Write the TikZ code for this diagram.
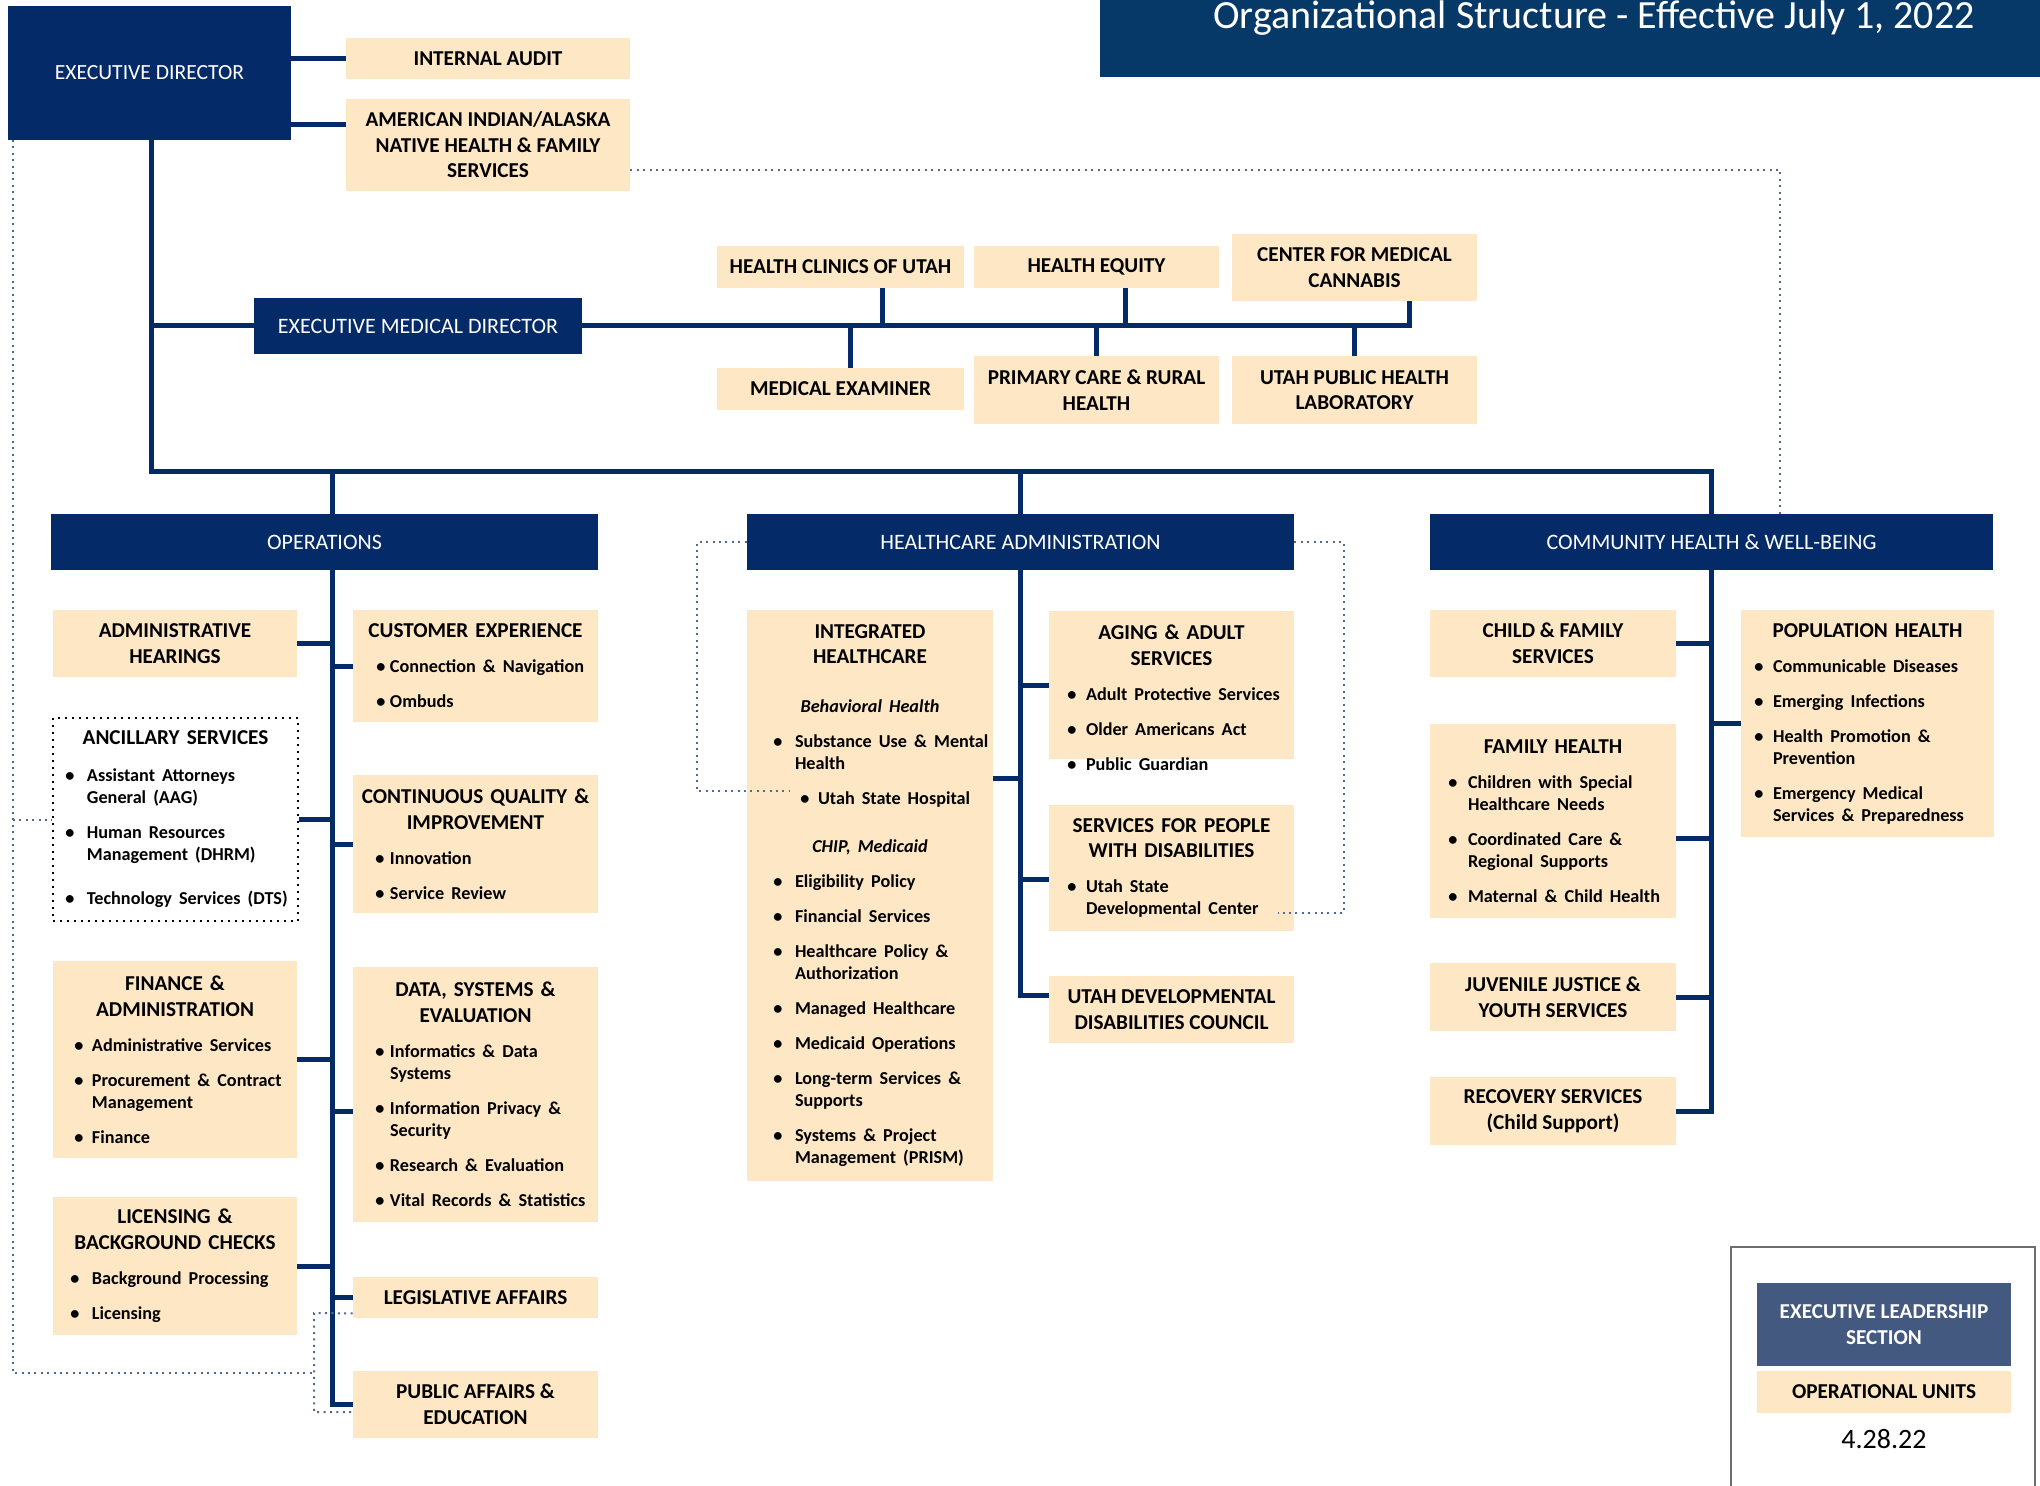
\documentclass[tikz,border=0pt]{standalone}
\usepackage{fontspec}
\setmainfont{Carlito}
\usetikzlibrary{calc}
\definecolor{navy}{RGB}{4,43,104}
\definecolor{banner}{RGB}{6,57,103}
\definecolor{peach}{RGB}{254,231,197}
\definecolor{slate}{RGB}{68,89,128}
\definecolor{dotc}{RGB}{84,104,150}
\definecolor{legc}{RGB}{110,110,110}
\newlength\bx \newlength\tx
\newcommand\ind[2]{\setlength\bx{#1}\setlength\tx{#2}}
\newcommand\bul[2][6.5pt]{\par{\leftskip=0pt\rightskip=-40pt plus 1fil\parfillskip=0pt\fontsize{9.1}{11}\selectfont\vspace{#1}\noindent\hangindent=\tx\hangafter=1\hbox to\tx{\hskip\bx\makebox[0pt]{\textbullet}\hfil}#2\par}}
\newcommand\sub[2][6.5pt]{\par{\centering\fontsize{9.1}{11}\selectfont\itshape\vspace{#1}#2\par}}
\newcommand\wide{\leftskip=-20pt plus 1fil\rightskip=-20pt plus 1fil\parfillskip=0pt\relax}
\newcommand\ubox[7]{\node[#6,minimum width={(#4-#2)*0.5pt},minimum height={(#5-#3)*0.5pt},text width={(#4-#2)*0.5pt}] (#1) at ({(#2+#4)/2},{(#3+#5)/2}) {\wide #7};}
\newcommand\tbox[7]{\node[#6,minimum width={(#4-#2)*0.5pt},minimum height={(#5-#3)*0.5pt}] (#1) at ({(#2+#4)/2},{(#3+#5)/2}) {#7};}
\begin{document}
\begin{tikzpicture}[x=0.5pt,y=-0.5pt,
  unit/.style={fill=peach,inner xsep=0pt,inner ysep=0pt,align=center,text=black,font=\bfseries\fontsize{10.6}{12.8}\selectfont},
  lead/.style={fill=navy,inner xsep=0pt,inner ysep=0pt,align=center,text=white,font=\fontsize{11}{13}\selectfont},
  conn/.style={draw=navy,line width=2.5pt},
  dot/.style={draw=dotc,line width=1pt,dash pattern=on 1pt off 2.2pt}]
\fill[white] (0,0) rectangle (2040,1486);
\useasboundingbox (0,0) rectangle (2040,1486);
% title banner
\node[fill=banner,inner sep=0pt,minimum width=470pt,minimum height=38.5pt,anchor=north west] (banner) at (1100,0) {};
\node[text=white,font=\fontsize{20}{22}\selectfont,anchor=base,inner sep=0pt] (title) at (1594,29) {Organizational Structure - Effective July 1, 2022};
% top
\tbox{ED}{8}{6}{291}{140}{lead,font=\fontsize{10.8}{13}\selectfont}{EXECUTIVE DIRECTOR}
\tbox{IA}{346}{38}{630}{79}{unit}{INTERNAL AUDIT}
\tbox{AIAN}{346}{99}{630}{191}{unit}{AMERICAN INDIAN/ALASKA\\NATIVE HEALTH \& FAMILY\\SERVICES}
\tbox{EMD}{254}{298}{582}{354}{lead}{EXECUTIVE MEDICAL DIRECTOR}
\tbox{HCU}{717}{246}{964}{288}{unit}{HEALTH CLINICS OF UTAH}
\tbox{HE}{974}{246}{1219}{288}{unit}{HEALTH EQUITY}
\tbox{CMC}{1232}{234}{1477}{301}{unit}{CENTER FOR MEDICAL\\CANNABIS}
\tbox{ME}{717}{368}{964}{410}{unit}{MEDICAL EXAMINER}
\tbox{PCRH}{974}{356}{1219}{424}{unit}{PRIMARY CARE \& RURAL\\HEALTH}
\tbox{UPHL}{1232}{356}{1477}{424}{unit}{UTAH PUBLIC HEALTH\\LABORATORY}
% division headers
\tbox{OPS}{51}{514}{598}{570}{lead}{OPERATIONS}
\tbox{HA}{747}{514}{1294}{570}{lead}{HEALTHCARE ADMINISTRATION}
\tbox{CHW}{1430}{514}{1993}{570}{lead}{COMMUNITY HEALTH \& WELL-BEING}
% operations
\tbox{AH}{53}{610}{297}{677}{unit}{ADMINISTRATIVE\\HEARINGS}
\ubox{ANC}{53}{718}{298}{921}{unit,fill=white,draw=black,line width=1pt,dash pattern=on 1pt off 2.5pt}{\ind{8.5pt}{17pt}ANCILLARY SERVICES\bul[7.5pt]{Assistant Attorneys\newline General (AAG)}\bul{Human Resources\newline Management (DHRM)}\bul[11pt]{Technology Services (DTS)}}
\ubox{FIN}{53}{961}{297}{1158}{unit}{\ind{13pt}{19.5pt}FINANCE \&\\ADMINISTRATION\bul{Administrative Services}\bul{Procurement \& Contract\newline Management}\bul{Finance}}
\ubox{LIC}{53}{1197}{297}{1335}{unit}{\ind{11pt}{19.5pt}LICENSING \&\\BACKGROUND CHECKS\bul{Background Processing}\bul{Licensing}}
\ubox{CX}{353}{610}{598}{722}{unit}{\ind{14pt}{18.5pt}CUSTOMER EXPERIENCE\bul{Connection \& Navigation}\bul{Ombuds}}
\ubox{CQI}{353}{775}{598}{913}{unit}{\ind{13.5pt}{18.5pt}CONTINUOUS QUALITY \&\\IMPROVEMENT\bul{Innovation}\bul{Service Review}}
\ubox{DSE}{353}{967}{598}{1222}{unit}{\ind{13.5pt}{18.5pt}DATA, SYSTEMS \&\\EVALUATION\bul{Informatics \& Data\newline Systems}\bul{Information Privacy \&\newline Security}\bul{Research \& Evaluation}\bul{Vital Records \& Statistics}}
\tbox{LEG}{353}{1277}{598}{1318}{unit}{LEGISLATIVE AFFAIRS}
\tbox{PAE}{353}{1371}{598}{1438}{unit}{PUBLIC AFFAIRS \&\\EDUCATION}
% healthcare administration
\ubox{IH}{747}{610}{993}{1181}{unit}{\ind{15.5pt}{24pt}INTEGRATED\\HEALTHCARE\sub[13.5pt]{Behavioral Health}\bul{Substance Use \& Mental\newline Health}\ind{29pt}{35.5pt}\bul{Utah State Hospital}\ind{15.5pt}{24pt}\sub[13pt]{CHIP, Medicaid}\bul{Eligibility Policy}\bul{Financial Services}\bul{Healthcare Policy \&\newline Authorization}\bul{Managed Healthcare}\bul{Medicaid Operations}\bul{Long-term Services \&\newline Supports}\bul{Systems \& Project\newline Management (PRISM)}}
\tbox{AAS}{1049}{611}{1294}{759}{unit}{}
\node[unit,fill=none,text width=122.5pt] (AAStxt) at (1171.5,697.5) {\wide\ind{11.5pt}{18.5pt}AGING \& ADULT\\SERVICES\bul{Adult Protective Services}\bul{Older Americans Act}\bul{Public Guardian}};
\ubox{PWD}{1049}{805}{1294}{931}{unit}{\ind{11.5pt}{18.5pt}SERVICES FOR PEOPLE\\WITH DISABILITIES\bul{Utah State\newline Developmental Center}}
\tbox{UDDC}{1049}{976}{1294}{1043}{unit}{UTAH DEVELOPMENTAL\\DISABILITIES COUNCIL}
% community health
\tbox{CFS}{1430}{610}{1676}{677}{unit}{CHILD \& FAMILY\\SERVICES}
\ubox{FH}{1430}{724}{1676}{918}{unit}{\ind{11.5pt}{19pt}FAMILY HEALTH\bul{Children with Special\newline Healthcare Needs}\bul{Coordinated Care \&\newline Regional Supports}\bul{Maternal \& Child Health}}
\tbox{JJ}{1430}{963}{1676}{1031}{unit}{JUVENILE JUSTICE \&\\YOUTH SERVICES}
\tbox{RS}{1430}{1077}{1676}{1145}{unit}{RECOVERY SERVICES\\(Child Support)}
\ubox{PH}{1741}{610}{1994}{837}{unit}{\ind{9pt}{16pt}POPULATION HEALTH\bul{Communicable Diseases}\bul{Emerging Infections}\bul{Health Promotion \&\newline Prevention}\bul{Emergency Medical\newline Services \& Preparedness}}
% legend
\tbox{legend}{1731}{1247}{2035}{1500}{draw=legc,line width=1pt,inner sep=0pt}{}
\tbox{ELS}{1757}{1283}{2011}{1366}{unit,fill=slate,text=white}{EXECUTIVE LEADERSHIP\\SECTION}
\tbox{OU}{1757}{1371}{2011}{1413}{unit}{OPERATIONAL UNITS}
\node[font=\fontsize{14}{16}\selectfont,inner sep=0pt] (date) at (1884,1439) {4.28.22};
% ---------- connectors ----------
\coordinate (AIANc) at ([yshift=-13pt]AIAN.north west);
\draw[conn] (ED.east |- IA.west) -- (IA.west);
\draw[conn] (ED.east |- AIANc) -- (AIANc);
\coordinate (bar) at (151,472);
\coordinate (EDs) at (ED.south -| bar);
\coordinate (OPSx) at ([xshift=3.75pt]OPS.north);
\draw[conn] (EDs) -- (bar) -- (bar -| CHW.north) -- (CHW.north);
\draw[conn] (bar -| OPSx) -- (OPSx);
\draw[conn] (bar -| HA.north) -- (HA.north);
\draw[conn] (EDs |- EMD.west) -- (EMD.west);
\coordinate (CMCc) at ([xshift=27.5pt]CMC.south);
\draw[conn] (EMD.east) -- (EMD.east -| CMCc) -- (CMCc);
\coordinate (HCUc) at ([xshift=20.75pt]HCU.south);
\coordinate (HEc) at ([xshift=14.25pt]HE.south);
\coordinate (MEc) at ([xshift=4.75pt]ME.north);
\draw[conn] (HCUc) -- (HCUc |- EMD.east);
\draw[conn] (HEc) -- (HEc |- EMD.east);
\draw[conn] (MEc) -- (MEc |- EMD.east);
\draw[conn] (PCRH.north) -- (PCRH.north |- EMD.east);
\draw[conn] (UPHL.north) -- (UPHL.north |- EMD.east);
% operations
\draw[conn] (OPSx |- OPS.south) -- (OPSx |- PAE.west) -- (PAE.west);
\foreach \n in {AH,ANC,FIN,LIC} \draw[conn] (\n.east) -- (OPSx |- \n.east);
\foreach \n in {CX,CQI,LEG} \draw[conn] (\n.west) -- (OPSx |- \n.west);
\coordinate (DSEc) at ([yshift=-8.25pt]DSE.west);
\draw[conn] (DSEc) -- (OPSx |- DSEc);
% healthcare administration
\coordinate (UDDCc) at ([yshift=7.25pt]UDDC.west);
\coordinate (IHc) at ([yshift=58.75pt]IH.east);
\coordinate (PWDc) at ([yshift=-5.5pt]PWD.west);
\draw[conn] (HA.south) -- (HA.south |- UDDCc) -- (UDDCc);
\draw[conn] (IHc) -- (HA.south |- IHc);
\draw[conn] (AAS.west) -- (HA.south |- AAS.west);
\draw[conn] (PWDc) -- (HA.south |- PWDc);
% community health
\coordinate (FHc) at ([yshift=-8.5pt]FH.east);
\draw[conn] (CHW.south) -- (CHW.south |- RS.east) -- (RS.east);
\draw[conn] (CFS.east) -- (CHW.south |- CFS.east);
\draw[conn] (FHc) -- (CHW.south |- FHc);
\draw[conn] (JJ.east) -- (CHW.south |- JJ.east);
\draw[conn] (PH.west) -- (CHW.south |- PH.west);
% ---------- dotted lines ----------
\coordinate (d1) at (13,140);
\coordinate (d2) at (13,1373);
\coordinate (d3) at (314,1373);
\coordinate (d4) at (314,1313);
\coordinate (d5) at (314,1412);
\draw[dot] (d1) -- (d2) -- (d3);
\draw[dot] ([yshift=2.5pt]LEG.south west) -- (d4) -- (d5) -- ([yshift=-3.75pt]PAE.west);
\draw[dot] (d1 |- ANC.west) -- (ANC.west);
\coordinate (AIANd) at ([yshift=-12.5pt]AIAN.east);
\coordinate (d6) at (1780,170);
\draw[dot] (AIANd) -- (d6) -- (d6 |- CHW.north);
\coordinate (d7) at (697,542);
\coordinate (d8) at (697,791);
\coordinate (d9) at (790,791);
\draw[dot] (HA.west) -- (d7) -- (d8) -- (d9);
\coordinate (d10) at (1344,542);
\coordinate (d11) at (1344,913);
\coordinate (d12) at (1278,913);
\draw[dot] (HA.east) -- (d10) -- (d11) -- (d12);
\end{tikzpicture}
\end{document}
